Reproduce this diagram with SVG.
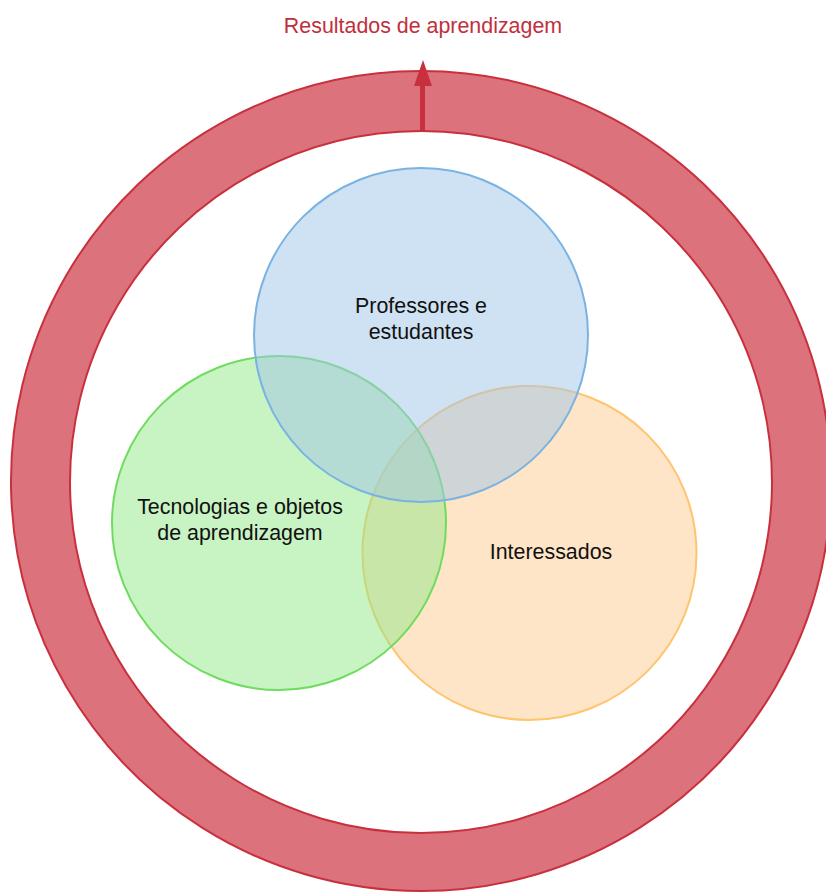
<svg xmlns="http://www.w3.org/2000/svg" width="826" height="892" viewBox="0 0 826 892">
  <defs>
    <style>
      .ring { fill: #dc727b; stroke: #c9303e; stroke-width: 2; fill-rule: evenodd; }
      .venn { fill-opacity: 0.5; stroke-width: 2; }
      .blue { fill: #9fc5e8; stroke: #7ab3e2; }
      .green { fill: #91e787; stroke: #6fdc5f; }
      .orange { fill: #ffcb8f; stroke: #ffc46e; }
      .label { font-family: "Liberation Sans", Arial, sans-serif; font-size: 21.4px; fill: #111111; text-anchor: middle; }
      .title { font-family: "Liberation Sans", Arial, sans-serif; font-size: 21.4px; fill: #c0303c; text-anchor: middle; }
    </style>
  </defs>

  <!-- outer ring -->
  <g id="ring">
    <path class="ring" d="M421,71 A410,410 0 1,1 420.99,71 Z M421,131 A351,351 0 1,0 421.01,131 Z"/>
  </g>

  <!-- connectors -->
  <g id="connectors">
    <line x1="422.5" y1="131" x2="422.5" y2="86" stroke="#c9303e" stroke-width="5"/>
    <path d="M414,86 L423,60 L432,86 Z" fill="#c9303e"/>
  </g>

  <g id="title">
    <text class="title" x="423" y="33">Resultados de aprendizagem</text>
  </g>

  <!-- venn circles -->
  <g id="interessados">
    <circle class="venn orange" cx="529.5" cy="553" r="167"/>
  </g>
  <g id="tecnologias">
    <circle class="venn green" cx="279" cy="523" r="167"/>
  </g>
  <g id="professores">
    <circle class="venn blue" cx="421" cy="335" r="167"/>
  </g>

  <g id="labels">
    <text class="label" x="421" y="313">Professores e</text>
    <text class="label" x="421" y="339">estudantes</text>
    <text class="label" x="240" y="514">Tecnologias e objetos</text>
    <text class="label" x="240" y="540">de aprendizagem</text>
    <text class="label" x="551" y="559">Interessados</text>
  </g>
</svg>
